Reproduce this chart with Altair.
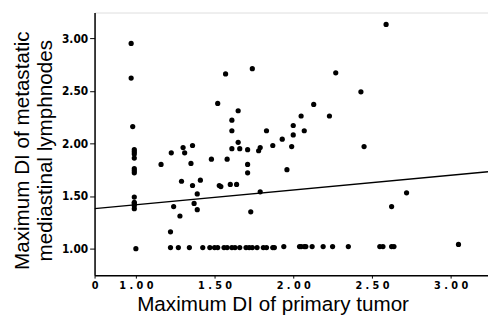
import altair as alt
import pandas as pd

# Maximum DI of primary tumor (x) and of metastatic mediastinal lymphnodes (y)
primary_di = [
    0.97, 0.97, 0.98, 0.99, 0.99, 0.99, 0.99, 0.99, 0.99, 0.99, 0.99, 0.99, 0.99, 0.99, 0.99, 1.00,
    1.30, 1.36, 1.57, 1.74, 1.52, 1.65, 1.61, 1.61, 1.83, 1.65, 1.61, 1.66, 1.71, 1.79, 1.78, 1.87, 1.93,
    2.59, 2.27, 2.43, 2.13, 2.05, 2.23, 2.00, 2.07, 2.00, 1.99, 2.45,
    1.225, 1.31, 1.16, 1.35, 1.48, 1.58, 1.71, 1.71, 1.29, 1.41, 1.36, 1.53, 1.54, 1.60, 1.64,
    1.39, 1.79, 1.37, 1.24, 1.39, 1.73, 1.28, 1.22, 1.96, 2.72, 2.625,
    1.22, 1.27, 1.34, 1.425, 1.47, 1.50, 1.52, 1.56, 1.58, 1.61, 1.63, 1.66, 1.70, 1.72, 1.74,
    1.77, 1.81, 1.83, 1.87, 1.88, 1.94, 2.04, 2.05, 2.07, 2.08, 2.12, 2.19, 2.25, 2.35, 2.55,
    2.57, 2.625, 2.64, 3.05,
]
node_di = [
    2.95, 2.62, 2.16, 1.94, 1.92, 1.90, 1.86, 1.76, 1.74, 1.72, 1.49, 1.44, 1.43, 1.41, 1.38, 1.00,
    1.96, 1.98, 2.66, 2.71, 2.38, 2.31, 2.22, 2.12, 2.12, 2.01, 1.95, 1.95, 1.94, 1.96, 1.93, 1.98, 2.04,
    3.13, 2.67, 2.49, 2.37, 2.26, 2.26, 2.17, 2.12, 2.08, 1.97, 1.97,
    1.91, 1.91, 1.80, 1.81, 1.85, 1.85, 1.80, 1.72, 1.64, 1.65, 1.60, 1.60, 1.59, 1.61, 1.61,
    1.52, 1.54, 1.43, 1.40, 1.37, 1.35, 1.31, 1.16, 1.75, 1.53, 1.40,
    1.01, 1.01, 1.01, 1.01, 1.01, 1.01, 1.01, 1.01, 1.01, 1.01, 1.01, 1.01, 1.01, 1.01, 1.01,
    1.01, 1.01, 1.01, 1.01, 1.01, 1.02, 1.02, 1.02, 1.02, 1.02, 1.02, 1.02, 1.02, 1.02, 1.02,
    1.02, 1.02, 1.02, 1.04,
]

# Regression line endpoints
fit_x = [0.7375, 3.2375]
fit_y = [1.38, 1.73]

x_ticks = [0.7375, 1.0, 1.5, 2.0, 2.5, 3.0]
x_tick_labels = ["0", "1 . 0 0", "1 . 5 0", "2 . 0 0", "2 . 5 0", "3 . 0 0"]
y_ticks = [1.0, 1.5, 2.0, 2.5, 3.0]

pts = pd.DataFrame({"x": primary_di, "y": node_di})
fit = pd.DataFrame({"x": fit_x, "y": fit_y})

x_label_expr = " : ".join(
    [f"datum.value < {v + 0.01} ? '{l}'" for v, l in zip(x_ticks, x_tick_labels)]
) + " : ''"

label_font = "Liberation Sans Narrow, DejaVu Sans Condensed, Liberation Sans"
title_font = "Liberation Sans"

xscale = alt.Scale(domain=[0.7375, 3.2375], nice=False, zero=False)
yscale = alt.Scale(domain=[0.748, 3.243], nice=False, zero=False)

xaxis = alt.Axis(
    values=x_ticks, labelExpr=x_label_expr, grid=False,
    title="Maximum DI of primary tumor", titleFont=title_font, titleFontSize=21,
    titleFontWeight="normal", titleColor="black", titleX=181, titleY=36,
    titleBaseline="alphabetic", titleAlign="center", titleAnchor="start",
    labelFont=label_font, labelFontSize=11, labelFontWeight="bold", labelColor="black",
    labelPadding=2, tickSize=3, tickColor="black", domainColor="black", domainWidth=1.5,
    labelFlush=False, labelOverlap=False,
)
yaxis = alt.Axis(
    values=y_ticks, format=".2f", grid=False,
    title=["Maximum DI of metastatic", "mediastinal lymphnodes"],
    titleFont=title_font, titleFontSize=21, titleFontWeight="normal", titleColor="black",
    titleAngle=-90, titleX=-73, titleY=140, titleBaseline="middle", titleAlign="center",
    titleLineHeight=23, titleAnchor="start",
    labelFont=label_font, labelFontSize=12, labelFontWeight="bold", labelColor="black",
    labelPadding=2, tickSize=5, tickColor="black", domainColor="black", domainWidth=1.5,
    labelOverlap=False,
)

points = alt.Chart(pts).mark_circle(color="black", opacity=1, size=28).encode(
    x=alt.X("x:Q", scale=xscale, axis=xaxis),
    y=alt.Y("y:Q", scale=yscale, axis=yaxis),
)
line = alt.Chart(fit).mark_line(color="black", strokeWidth=1.5, clip=True).encode(
    x=alt.X("x:Q", scale=xscale),
    y=alt.Y("y:Q", scale=yscale),
)

chart = (
    alt.layer(points, line)
    .properties(
        width=400, height=267,
        autosize=alt.AutoSizeParams(type="none"),
        padding={"left": 88, "top": 2, "right": 0, "bottom": 45},
    )
    .configure_view(stroke=None)
    .configure(background="white")
)

chart.save("out.html", embed_options={"renderer": "svg", "actions": False})
